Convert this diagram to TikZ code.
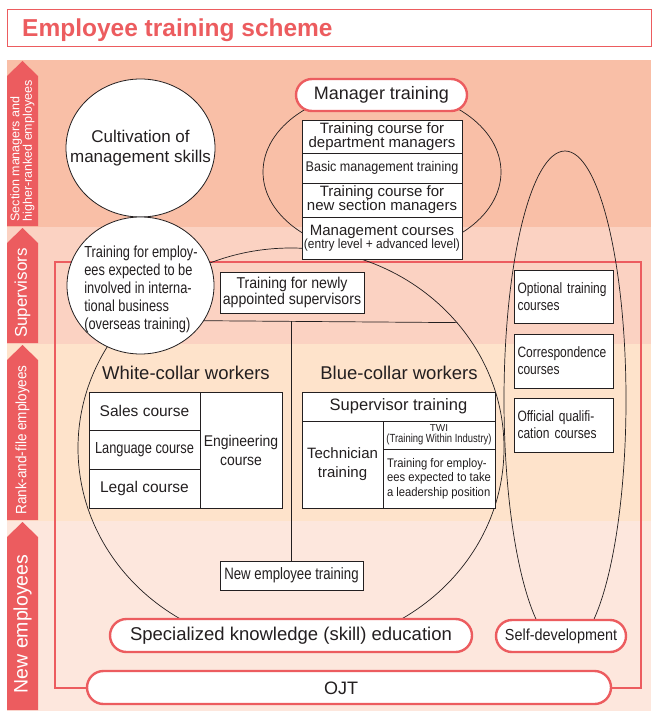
\documentclass[tikz,border=0pt]{standalone}
\usepackage{fontspec}
\setmainfont{Liberation Sans}
\newfontfamily\narrowfont{Liberation Sans}[FakeStretch=0.8]
\newfontfamily\semifont{Liberation Sans}[FakeStretch=0.9]
\usepackage{tikz}
\usetikzlibrary{shapes.geometric, shapes.misc}

\definecolor{redA}{RGB}{236,92,95}
\definecolor{bandA}{RGB}{249,191,167}
\definecolor{bandB}{RGB}{251,210,194}
\definecolor{bandC}{RGB}{254,227,203}
\definecolor{bandD}{RGB}{253,231,221}
\definecolor{inkA}{RGB}{35,31,32}

\newcommand{\fsz}[2]{\fontsize{#1}{#2}\selectfont}

\begin{document}
\begin{tikzpicture}[x=1pt, y=-1pt, text=inkA,
    cell/.style={draw=inkA, fill=white, line width=0.8pt, inner sep=0pt, align=center},
    bubble/.style={draw=inkA, fill=white, ellipse, line width=0.8pt, inner sep=0pt},
    ring/.style={draw=inkA, ellipse, line width=0.7pt, inner sep=0pt},
    pill/.style={draw=redA, fill=white, rounded rectangle, line width=2.4pt, inner sep=0pt},
    stagelabel/.style={text=white, rotate=90, inner sep=0pt}]
    \useasboundingbox (0,0) rectangle (651,711);

    % Level bands and the arrows on the left
    \foreach \ytop/\ybot/\shade in {60/227/bandA, 227/344/bandB, 344/521/bandC, 521/711/bandD}{
        \fill[\shade] (7,\ytop) rectangle (651,\ybot);
        \fill[redA] (7,\ybot-1) -- (7,\ytop+16) -- (22.5,\ytop+1) -- (38,\ytop+16) -- (38,\ybot-1) -- cycle;
    }
    \node[stagelabel, align=left, font=\fsz{12.5}{12.5}] (lvl-mgr) at (22.5,151) {Section managers and\\higher-ranked employees};
    \node[stagelabel, font=\fsz{17}{18}] (lvl-sup) at (22.5,293) {Supervisors};
    \node[stagelabel, font=\semifont\fsz{15}{16}] (lvl-rank) at (22.5,440) {Rank-and-file employees};
    \node[stagelabel, font=\fsz{19.5}{20}] (lvl-new) at (22.5,624) {New employees};

    % Title
    \node[draw=redA, line width=1.2pt, minimum width=644pt, minimum height=37pt, inner sep=0pt, anchor=north west] (titlebox) at (6.5,9) {};
    \node[anchor=base west, inner sep=0pt, text=redA, font=\bfseries\fsz{24.5}{28}] (title) at (22,36.5) {Employee training scheme};

    % OJT and the red frame
    \node[pill, minimum width=524pt, minimum height=33pt] (ojt) at (349,687.5) {};
    \node[font=\fsz{18}{20}] (ojt-txt) at (341,688) {OJT};
    \coordinate (frame-nw) at (55,262);
    \coordinate (frame-ne) at (641,262);
    \draw[redA, line width=2pt] (ojt.west) -| (frame-nw) -- (frame-ne) |- (ojt.east);

    % Rings round the groups
    \node[ring, minimum width=426pt, minimum height=400pt] (bigring) at (291,448) {};
    \node[ring, minimum width=238pt, minimum height=164pt] (mgrring) at (382,172) {};
    \node[ring, minimum width=122pt, minimum height=498pt] (selfring) at (565,400) {};

    % Circles on the left
    \node[bubble, minimum width=149pt, minimum height=138pt] (cultiv) at (140.5,148) {};
    \node[font=\fsz{17}{20}, align=center] (cultiv-txt) at (cultiv) {Cultivation of\\management skills};
    \node[bubble, minimum width=147pt, minimum height=137pt] (overseas) at (140.5,285.5) {};
    \node[font=\narrowfont\fsz{16}{18}, align=left] (overseas-txt) at (141,289) {Training for employ-\\ees expected to be\\involved in interna-\\tional business\\(overseas training)};

    % Manager training
    \node[pill, minimum width=171pt, minimum height=32pt, font=\fsz{18}{20}] (mgrpill) at (381.5,95) {Manager training};
    \node[cell, minimum width=160pt, minimum height=33pt, font=\fsz{15}{14}] (mgr-dept) at (382,136.5) {Training course for\\department managers};
    \node[cell, minimum width=160pt, minimum height=30pt, font=\semifont\fsz{14}{16}] (mgr-basic) at (382,168) {Basic management training};
    \node[cell, minimum width=160pt, minimum height=34pt, font=\fsz{15}{14}] (mgr-new) at (382,200) {Training course for\\new section managers};
    \node[cell, minimum width=160pt, minimum height=42pt, font=\fsz{15}{13.5}] (mgr-course) at (382,238) {Management courses\\{\semifont\fsz{13.3}{13.5}(entry level + advanced level)}};

    % Supervisors
    \node[cell, minimum width=144pt, minimum height=41pt, font=\semifont\fsz{15.7}{16}] (newsup) at (292,292.5) {Training for newly\\appointed supervisors};

    % White-collar workers
    \node[font=\fsz{18.5}{20}] (white-lbl) at (186,373) {White-collar workers};
    \node[cell, minimum width=111pt, minimum height=38pt, font=\fsz{15.5}{16}] (sales) at (144.5,411) {Sales course};
    \node[cell, minimum width=111pt, minimum height=39pt, font=\narrowfont\fsz{16}{16}] (lang) at (144.5,449.5) {Language course};
    \node[cell, minimum width=111pt, minimum height=39pt, font=\fsz{15.5}{16}] (legal) at (144.5,488.5) {Legal course};
    \node[cell, minimum width=82pt, minimum height=116pt, font=\semifont\fsz{15.5}{19}] (engin) at (241,450) {Engineering\\course};

    % Blue-collar workers
    \node[font=\fsz{18.5}{20}] (blue-lbl) at (399,373) {Blue-collar workers};
    \node[cell, minimum width=193pt, minimum height=29pt, font=\fsz{16.5}{18}] (suptrn) at (398.5,406.5) {Supervisor training};
    \node[cell, minimum width=81pt, minimum height=87pt, font=\fsz{15}{19}] (techn) at (342.5,464.5) {Technician\\training};
    \node[cell, minimum width=112pt, minimum height=28pt, font=\fsz{10}{11.5}] (twi) at (439,435) {TWI\\{\narrowfont\fsz{11.8}{11.5}(Training Within Industry)}};
    \node[cell, minimum width=112pt, minimum height=59pt, align=left, font=\semifont\fsz{12.5}{14.3}] (leader) at (439,478.5) {Training for employ-\\ees expected to take\\a leadership position};

    % New employees
    \node[cell, minimum width=143pt, minimum height=29pt, font=\narrowfont\fsz{16.5}{18}] (newemp) at (291.5,575.5) {New employee training};
    \node[pill, minimum width=362pt, minimum height=33pt, font=\fsz{18.5}{20}] (specpill) at (291,635.5) {Specialized knowledge (skill) education};

    % Self-development
    \node[cell, minimum height=53pt, text width=92pt, inner xsep=3.5pt, align=left, font=\narrowfont\fsz{15}{17}] (optional) at (563.5,296.5) {Optional training\\courses};
    \node[cell, minimum height=54pt, text width=92pt, inner xsep=3.5pt, align=left, font=\narrowfont\fsz{15}{17}] (corresp) at (563.5,361) {Correspondence\\courses};
    \node[cell, minimum height=54pt, text width=92pt, inner xsep=3.5pt, align=left, font=\narrowfont\fsz{15}{17}] (official) at (563.5,425) {Official qualifi-\\cation courses};
    \node[pill, minimum width=130pt, minimum height=32pt, font=\semifont\fsz{16}{18}] (selfpill) at (561,636) {Self-development};

    % Split between the groups
    \coordinate (split) at (291.5,321);
    \draw[inkA, line width=0.7pt] (overseas.-29) -- (bigring.37.6);
    \draw[inkA, line width=0.7pt] (split) -- (newemp.north);

\end{tikzpicture}
\end{document}
